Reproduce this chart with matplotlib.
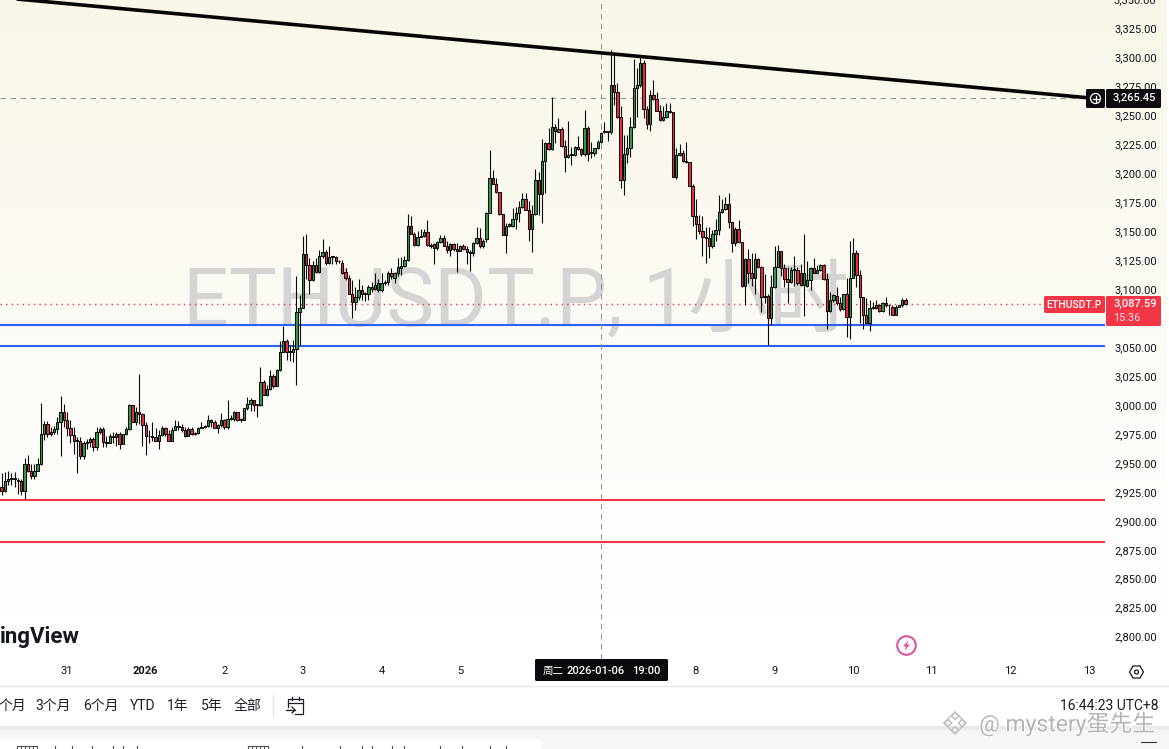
import numpy as np
import matplotlib
matplotlib.use("Agg")
import matplotlib.pyplot as plt
import matplotlib.patheffects as pe
from matplotlib.patches import Rectangle, FancyBboxPatch, Circle, Polygon

FONT = ['Roboto', 'Noto Sans CJK SC', 'DejaVu Sans']
plt.rcParams['font.family'] = FONT

FIRST_HOUR = -44  # hours relative to 2026-01-01 00:00
opens = [2929,2926,2934,2936,2936,2935,2934,2926,2949,2943,
2939,2943,2949,2975,2984,2975,2977,2979,2985,2994,
2987,2980,2974,2969,2969,2956,2967,2968,2971,2964,
2977,2979,2968,2967,2973,2972,2975,2966,2975,2979,
3000,2985,2994,2992,2983,2973,2973,2972,2969,2974,
2980,2975,2969,2978,2982,2981,2978,2973,2979,2975,
2976,2980,2981,2982,2987,2985,2980,2983,2987,2981,
2988,2988,2994,2987,2987,2997,3001,3004,3000,3000,
3020,3009,3014,3025,3016,3030,3046,3055,3046,3046,
3048,3080,3084,3130,
3121,3108,3121,3115,3129,3132,3123,3128,3128,3124,
3123,3115,3110,3096,3089,3093,3099,3096,3096,3102,
3100,3099,3099,3105,3106,3114,3110,3114,3118,3120,
3125,3155,3148,3138,3145,3146,3149,3138,3139,3136,
3141,3144,3137,3134,3139,3135,3133,3137,3135,3132,
3131,3140,3144,3137,3143,3166,3196,3191,3184,3165,
3147,3155,3155,3161,3166,3171,3178,3168,3152,3165,
3194,3182,3211,3226,3221,3240,3236,3238,3224,3214,
3216,3216,3223,3221,3217,3239,3218,3218,3222,3227,
3236,3236,
3236,3276,3270,3249,3194,3217,3222,3240,
3274,3276,3295,3256,3243,3268,3264,3254,3246,3249,
3254,3253,3197,3216,3218,3211,3210,3189,3163,3156,
3150,3145,3144,3137,3148,3151,3167,3169,3174,3158,
3140,3152,3141,3103,3126,3114,3110,3126,3119,3093,
3094,3075,3102,3119,3133,3118,3109,3106,3117,3117,
3114,3104,3103,3108,3118,3114,3117,3121,3109,3081,
3091,3094,3088,3083,3096,3076,3110,3131,3112,3093,
3078,3071,3084,3084,3086,3081,3088,3086,3085,3078,
3085,3086,3091]
highs = [2941,2942,2943,2941,2942,2937,2936,2954,2957,2949,
2949,2954,3002,2986,2986,2981,2982,2990,3008,3001,
2994,2987,2981,2972,2972,2969,2971,2972,2972,2981,
2981,2981,2973,2975,2977,2977,2977,2975,2981,3001,
3000,2998,3027,2993,2985,2978,2985,2980,2978,2982,
2981,2978,2981,2987,2986,2984,2981,2981,2981,2977,
2981,2985,2983,2991,2988,2987,2984,2993,2988,3004,
2991,2995,2994,2989,2997,3007,3006,3004,3001,3033,
3022,3017,3030,3027,3031,3055,3068,3057,3052,3056,
3111,3095,3146,3148,
3127,3124,3127,3134,3143,3134,3137,3129,3129,3125,
3125,3118,3112,3108,3102,3109,3104,3098,3104,3106,
3114,3109,3114,3108,3116,3118,3115,3127,3128,3129,
3165,3163,3149,3150,3152,3152,3160,3140,3140,3142,
3147,3147,3142,3140,3140,3140,3138,3139,3137,3134,
3141,3154,3153,3143,3167,3220,3203,3196,3184,3165,
3157,3157,3170,3171,3176,3183,3183,3176,3173,3204,
3201,3230,3227,3239,3266,3243,3248,3240,3229,3245,
3223,3224,3232,3222,3255,3241,3227,3222,3229,3236,
3244,3237,
3307,3304,3278,3258,3233,3233,3249,3299,
3291,3301,3298,3258,3272,3281,3270,3259,3258,3261,
3261,3253,3222,3225,3220,3227,3210,3191,3178,3164,
3163,3154,3154,3151,3161,3181,3178,3180,3183,3158,
3154,3160,3141,3127,3135,3131,3131,3127,3120,3113,
3096,3112,3137,3138,3133,3122,3119,3119,3129,3119,
3122,3148,3124,3119,3127,3121,3122,3122,3114,3098,
3096,3102,3093,3096,3110,3142,3144,3134,3117,3093,
3092,3091,3089,3091,3087,3089,3093,3086,3086,3086,
3086,3092,3092]
lows = [2922,2925,2931,2931,2929,2923,2922,2919,2942,2936,
2936,2943,2948,2970,2972,2973,2975,2975,2956,2981,
2973,2967,2958,2941,2953,2953,2962,2964,2960,2961,
2975,2964,2964,2967,2967,2965,2962,2966,2974,2978,
2985,2983,2984,2965,2957,2967,2969,2969,2962,2973,
2973,2969,2969,2978,2978,2977,2972,2973,2974,2974,
2975,2980,2980,2981,2981,2980,2976,2981,2979,2979,
2987,2986,2986,2985,2987,2996,2995,2995,2990,2999,
3009,3008,3013,3015,3016,3029,3046,3039,3038,3037,
3017,3052,3084,3109,
3096,3107,3114,3114,3127,3121,3122,3122,3122,3123,
3113,3108,3096,3075,3082,3091,3091,3090,3091,3098,
3099,3098,3098,3104,3104,3109,3105,3111,3112,3119,
3124,3148,3137,3137,3145,3145,3137,3136,3122,3134,
3140,3137,3131,3129,3133,3115,3133,3134,3122,3116,
3129,3139,3136,3136,3141,3166,3191,3183,3164,3147,
3131,3154,3154,3152,3158,3170,3168,3142,3132,3164,
3164,3157,3183,3220,3220,3226,3236,3223,3201,3213,
3207,3215,3220,3215,3215,3211,3213,3215,3221,3226,
3235,3228,
3234,3259,3248,3187,3181,3209,3214,3239,
3249,3275,3248,3238,3237,3263,3254,3245,3245,3248,
3252,3197,3195,3215,3210,3209,3189,3155,3143,3148,
3129,3123,3127,3136,3142,3147,3166,3168,3153,3132,
3137,3140,3102,3086,3105,3103,3096,3118,3080,3088,
3052,3069,3101,3119,3111,3102,3088,3105,3103,3104,
3103,3077,3102,3099,3114,3114,3116,3108,3066,3080,
3089,3086,3081,3082,3059,3057,3110,3102,3071,3066,
3071,3064,3083,3083,3080,3080,3085,3078,3078,3078,
3085,3085,3086]
closes = [2926,2934,2936,2936,2936,2934,2926,2949,2943,2939,
2943,2949,2975,2984,2975,2977,2979,2985,2994,2987,
2980,2974,2969,2969,2956,2967,2968,2971,2964,2977,
2979,2968,2967,2973,2972,2975,2966,2975,2979,3000,
2985,2994,2992,2983,2973,2973,2972,2969,2974,2980,
2975,2969,2978,2982,2981,2978,2973,2979,2975,2976,
2980,2981,2982,2987,2985,2980,2983,2987,2981,2988,
2988,2994,2987,2987,2997,3001,3004,3000,3000,3020,
3009,3014,3025,3016,3030,3046,3055,3046,3046,3048,
3080,3084,3130,3121,
3108,3121,3115,3129,3132,3123,3128,3128,3124,3124,
3114,3110,3096,3089,3093,3099,3096,3096,3102,3100,
3104,3105,3105,3106,3114,3111,3114,3119,3120,3125,
3155,3148,3138,3145,3146,3149,3138,3137,3136,3141,
3144,3137,3134,3139,3135,3133,3137,3135,3132,3131,
3140,3144,3137,3142,3166,3196,3191,3184,3165,3147,
3155,3156,3161,3166,3171,3178,3168,3152,3165,3194,
3182,3211,3226,3221,3240,3237,3238,3224,3214,3216,
3216,3223,3221,3217,3239,3217,3218,3222,3227,3235,
3236,3236,
3276,3270,3249,3194,3217,3222,3240,3274,
3276,3295,3256,3243,3268,3264,3254,3246,3249,3254,
3253,3197,3216,3218,3211,3210,3189,3163,3156,3150,
3145,3144,3137,3148,3151,3167,3169,3174,3158,3140,
3152,3141,3103,3126,3114,3110,3126,3119,3093,3094,
3075,3102,3119,3133,3118,3109,3106,3117,3117,3105,
3104,3114,3108,3118,3114,3117,3121,3109,3081,3091,
3095,3088,3083,3096,3076,3110,3131,3112,3093,3078,
3071,3084,3085,3086,3081,3088,3086,3086,3078,3085,
3086,3091,3087.59]

price_ticks = list(range(2800, 3350, 25))
day_ticks = [-24, 0, 24, 48, 72, 96, 168, 192, 216, 240, 264, 288]
day_labels = ['31', '2026', '2', '3', '4', '5', '8', '9', '10', '11', '12', '13']
support_levels = [3069, 3051]
target_levels = [2918, 2881.7]
last_price = 3087.59
cross_price = 3265.45
cross_hour = 139
trend_hours = [-44.7, 287.2]
trend_prices = [3352, 3265.45]

W, H = 1169, 749
fig = plt.figure(figsize=(W / 100, H / 100), dpi=100, facecolor='white')

# pale gradient behind the chart pane and price scale
bg = fig.add_axes([0, 1 - 686 / H, 1167 / W, 686 / H], zorder=0)
bg.axis('off')
top = np.array([0xF9, 0xF6, 0xE9]) / 255
bot = np.array([1.0, 1.0, 1.0])
t = np.clip(np.linspace(0, 1, 256) / 0.9, 0, 1)[:, None, None]
bg.imshow(top[None, None, :] * (1 - t) + bot[None, None, :] * t, aspect='auto')

# chart pane
ax = fig.add_axes([0, 1 - 659 / H, 1105 / W, 659 / H], zorder=1)
ax.patch.set_alpha(0)
ax.set_xlim(-44.5, 292.9)
ax.set_ylim(3000 + (405 - 659) * 0.8636, 3000 + 405 * 0.8636)
for s in ax.spines.values():
    s.set_visible(False)

hours = FIRST_HOUR + np.arange(len(opens))
o, h, l, c = map(np.array, (opens, highs, lows, closes))
up = c >= o
ax.text(183 / 1105, 1 - 326 / 659, 'ETHUSDT.P, 1小时', transform=ax.transAxes, fontsize=58,
        color='#d4d4d4', ha='left', va='baseline', family=FONT, zorder=1)
ax.axhline(last_price, color='#f23645', lw=1, ls=(0, (1, 3)), zorder=2)
for v in support_levels:
    ax.axhline(v, color='#2962ff', lw=1.5, zorder=2)
for v in target_levels:
    ax.axhline(v, color='#f23645', lw=1.5, zorder=2)
ax.plot([-44.5, trend_hours[1]], [cross_price, cross_price], color='#9a9a9a', lw=0.8,
        ls=(0, (5, 4)), zorder=2)
ax.axvline(cross_hour, color='#9a9a9a', lw=0.8, ls=(0, (5, 4)), zorder=2)
ax.vlines(hours, l, h, color='#0c0c0c', lw=0.8, zorder=3)
ax.bar(hours, np.maximum(np.abs(c - o), 0.6), bottom=np.minimum(o, c), width=0.72,
       color=np.where(up, '#2e9e44', '#ee2a40'), edgecolor='#0c0c0c', linewidth=0.75, zorder=4)
ax.plot(trend_hours, trend_prices, color='#050505', lw=2.6, zorder=5, solid_capstyle='butt')

ax.yaxis.tick_right()
ax.set_yticks(price_ticks)
ax.set_yticklabels([f'{v:,.2f}' for v in price_ticks], fontsize=8, color='#0f131c')
ax.tick_params(axis='y', length=0, pad=6.5)
ax.set_xticks(day_ticks)
ax.set_xticklabels(day_labels, fontsize=8, color='#0f131c')
ax.get_xticklabels()[1].set_fontweight('bold')
ax.tick_params(axis='x', length=0, pad=5)

# interface chrome in pixel coordinates
ui = fig.add_axes([0, 0, 1, 1], zorder=2)
ui.set_xlim(0, W)
ui.set_ylim(H, 0)
ui.axis('off')

def box(x0, y0, x1, y1, color, rad=1.5, z=5):
    ui.add_patch(FancyBboxPatch((x0 + rad, y0 + rad), x1 - x0 - 2 * rad, y1 - y0 - 2 * rad,
                                boxstyle=f'round,pad={rad}', fc=color, ec='none', zorder=z))

def label(x, y, s, size=8, color='#131722', ha='center', z=7, **kw):
    ui.text(x, y, s, fontsize=size, color=color, ha=ha, va='center', family=FONT, zorder=z, **kw)

label(1135, 0, '3,350.00')
# price tags
box(1044, 296, 1105, 313, '#f23645')
label(1074, 305, 'ETHUSDT.P', size=7.6, color='white', fontweight='medium')
box(1106, 296, 1161, 326, '#f23645')
label(1135, 303.5, '3,087.59', size=8, color='white', fontweight='medium')
label(1127, 318, '15:36', size=7.8, color='#fde0e4')
box(1086, 89, 1105, 108, '#0b0b0f')
box(1106, 89, 1161, 108, '#0b0b0f')
label(1134, 98, '3,265.45', size=8, color='white', fontweight='medium')
ui.add_patch(Circle((1095.5, 98.5), 5, fc='none', ec='white', lw=0.9, zorder=7))
ui.plot([1092.5, 1098.5], [98.5, 98.5], color='white', lw=0.9, zorder=7)
ui.plot([1095.5, 1095.5], [95.5, 101.5], color='white', lw=0.9, zorder=7)

# crosshair time tag
box(535, 659, 668, 681, '#0b0b0f')
label(553, 671, '周二', size=7.6, color='white')
label(596, 671, '2026-01-06', size=8, color='white', fontweight='medium')
label(646, 671, '19:00', size=8, color='white', fontweight='medium')

# logo remnant and marker
label(0, 637.5, 'ingView', size=16, color='#131722', ha='left', fontweight='bold')
ui.add_patch(Circle((906.5, 645.5), 9.3, fc='none', ec='#d9579f', lw=1.5, zorder=6))
ui.add_patch(Polygon([(908.5, 640), (903, 646.5), (906, 646.5), (904.5, 651), (910, 644.5), (907, 644.5)],
                     fc='#d9579f', ec='none', zorder=6))
# settings icon
ui.add_patch(Polygon([(1129.5, 672), (1133, 666), (1140, 666), (1143.5, 672), (1140, 678), (1133, 678)],
                     fc='none', ec='#131722', lw=0.9, zorder=6))
ui.add_patch(Circle((1136.5, 672), 2, fc='none', ec='#131722', lw=0.9, zorder=6))

# toolbar
ui.plot([0, W], [686, 686], color='#e6e6e6', lw=1, zorder=1)
for x, s in [(12, '个月'), (53.5, '3个月'), (101, '6个月'), (143, 'YTD'), (178, '1年'), (211.5, '5年'), (248, '全部')]:
    label(x, 706, s, size=10, color='#1b1f2a')
ui.plot([272.5, 272.5], [695, 716], color='#e6e6e6', lw=1, zorder=1)
ui.plot([288, 288, 303, 303, 295], [707, 699, 699, 714, 714], color='#1b1f2a', lw=0.9, zorder=6)
ui.plot([288, 303], [702.5, 702.5], color='#1b1f2a', lw=0.9, zorder=6)
ui.plot([292, 292], [696.5, 700], color='#1b1f2a', lw=0.9, zorder=6)
ui.plot([299, 299], [696.5, 700], color='#1b1f2a', lw=0.9, zorder=6)
ui.plot([286, 295], [710, 710], color='#1b1f2a', lw=0.9, zorder=6)
ui.plot([292, 295, 292], [707, 710, 713], color='#1b1f2a', lw=0.9, zorder=6)
label(1158, 706, '16:44:23 UTC+8', size=10, color='#1b1f2a', ha='right', z=9)

# bottom strip
ui.add_patch(Rectangle((0, 726), W, 4, fc='#e9e9eb', ec='none', zorder=1))
ui.add_patch(Rectangle((0, 730), W, 19, fc='#f6f6f8', ec='none', zorder=1))
box(-8, 739, 541, 760, '#ffffff', rad=5, z=2)
for x in [17, 21, 25, 29, 33, 37, 55, 72, 92, 113, 123, 137, 248, 252, 256, 260, 264, 268, 302, 340, 362, 372, 392, 404, 440, 462, 490, 506]:
    ui.plot([x, x], [745.5, 749], color='#555', lw=0.8, zorder=3)
ui.plot([17, 37], [745.5, 745.5], color='#555', lw=0.8, zorder=3)
ui.plot([248, 268], [745.5, 745.5], color='#555', lw=0.8, zorder=3)
ui.plot([1141, 1156], [742, 742], color='#333', lw=0.8, zorder=3)

# watermark bottom right
wm = ui.text(1067, 724, '@ mystery蛋先生', fontsize=16.5, color='#b4b4b4', ha='center', va='center',
             family=FONT, zorder=8)
wm.set_path_effects([pe.withStroke(linewidth=1.5, foreground='#ffffff')])
for dx, dy, r in [(955, 723, 11), (948, 723, 3.5), (962, 723, 3.5), (955, 716, 3.5), (955, 730, 3.5)]:
    ui.add_patch(Polygon([(dx - r, dy), (dx, dy - r), (dx + r, dy), (dx, dy + r)], fc='none', ec='#c4c4c4',
                         lw=1.2, zorder=8))

fig.savefig('out.png', dpi=100)
